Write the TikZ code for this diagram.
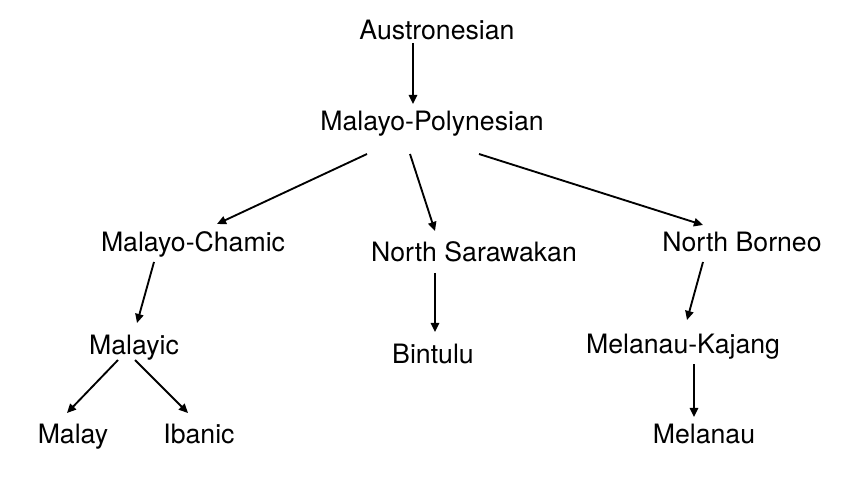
\documentclass[tikz,border=0pt]{standalone}
\usepackage{fontspec}
\setmainfont{TeX Gyre Heros}
\usetikzlibrary{arrows.meta,calc}

\begin{document}
\begin{tikzpicture}[x=0.75pt, y=-0.75pt,
    lang/.style={anchor=base, inner sep=0pt, font=\fontsize{20}{24}\selectfont},
    edge/.style={line width=1.4pt, -{Triangle[length=6.8pt,width=6.2pt]}}]

    \useasboundingbox (0,0) rectangle (849,477);

    % Node coordinates (centre of text, baseline)
    \node[lang] (aus)   at (437, 40)  {Austronesian};
    \node[lang] (mp)    at (432, 131) {Malayo-Polynesian};
    \node[lang] (mc)    at (193, 252) {Malayo-Chamic};
    \node[lang] (ns)    at (474, 262) {North Sarawakan};
    \node[lang] (nb)    at (742, 252) {North Borneo};
    \node[lang] (mly)   at (134, 354) {Malayic};
    \node[lang] (bin)   at (433, 363) {Bintulu};
    \node[lang] (mk)    at (683, 353) {Melanau-Kajang};
    \node[lang] (malay) at (73, 443)  {Malay};
    \node[lang] (iban)  at (199, 443) {Ibanic};
    \node[lang] (mel)   at (704, 443) {Melanau};

    % Edges
    \draw[edge] ($(aus.base)+(-24,3)$) -- ($(mp.base)+(-19,-27)$);
    \draw[edge] ($(mp.base)+(-65,23)$) -- ($(mc.base)+(24,-28)$);
    \draw[edge] ($(mp.base)+(-22,23)$) -- ($(ns.base)+(-39,-31)$);
    \draw[edge] ($(mp.base)+(47,23)$)  -- ($(nb.base)+(-39,-27)$);
    \draw[edge] ($(mc.base)+(-39,10)$) -- ($(mly.base)+(3,-31)$);
    \draw[edge] ($(ns.base)+(-39,11)$) -- ($(bin.base)+(2,-31)$);
    \draw[edge] ($(nb.base)+(-39,10)$) -- ($(mk.base)+(4,-33)$);
    \draw[edge] ($(mly.base)+(-16,6)$) -- ($(malay.base)+(-6,-30)$);
    \draw[edge] ($(mly.base)+(1,6)$)   -- ($(iban.base)+(-11,-30)$);
    \draw[edge] ($(mk.base)+(11,11)$)  -- ($(mel.base)+(-10,-26)$);

\end{tikzpicture}
\end{document}
